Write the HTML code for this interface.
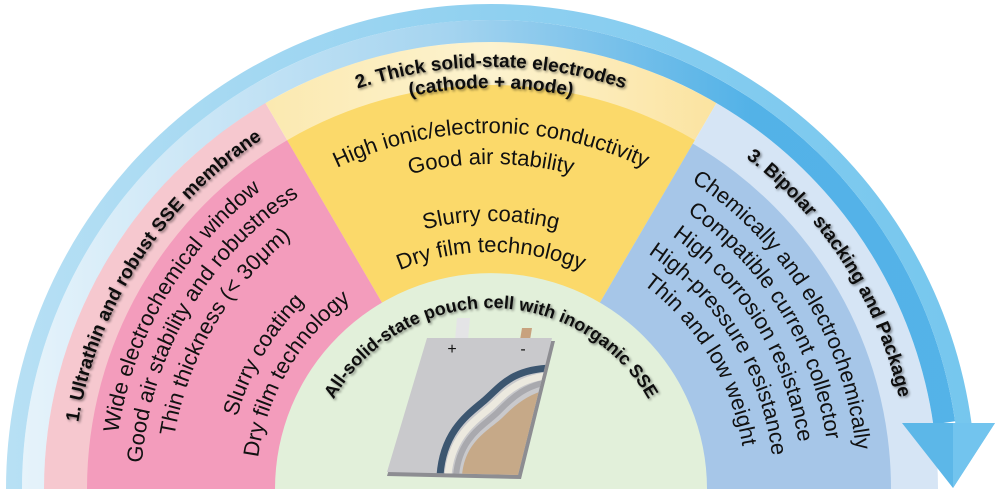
<!DOCTYPE html>
<html><head><meta charset="utf-8"><style>
html,body{margin:0;padding:0;background:#fff;overflow:hidden;width:1000px;height:489px;}
svg{display:block;}
text{font-family:"Liberation Sans",Arial,sans-serif;}
</style></head>
<body>
<svg id="s" width="1000" height="489" viewBox="0 0 1000 489" xmlns="http://www.w3.org/2000/svg">
<defs>
<linearGradient id="gIn" gradientUnits="userSpaceOnUse" x1="0" y1="0" x2="1000" y2="0">
<stop offset="0" stop-color="#4aa9e0" stop-opacity="0.12"/>
<stop offset="0.45" stop-color="#4aa9e0" stop-opacity="0.5"/>
<stop offset="0.75" stop-color="#4aaee6" stop-opacity="0.95"/>
<stop offset="1" stop-color="#55b3e8" stop-opacity="1"/>
</linearGradient>
<linearGradient id="gOut" gradientUnits="userSpaceOnUse" x1="0" y1="0" x2="1000" y2="0">
<stop offset="0" stop-color="#b8e0f4"/>
<stop offset="0.5" stop-color="#8fd0f0"/>
<stop offset="1" stop-color="#74c6ee"/>
</linearGradient>
<linearGradient id="gPaleY" x1="0" y1="0" x2="1" y2="0">
<stop offset="0" stop-color="#fbe9b0"/><stop offset="0.5" stop-color="#fdf3cf"/><stop offset="1" stop-color="#fbe3a0"/>
</linearGradient>
<filter id="sh" x="-10%" y="-10%" width="120%" height="130%">
<feDropShadow dx="1.5" dy="1.5" stdDeviation="1.4" flood-color="#000" flood-opacity="0.45"/>
</filter>
<clipPath id="pouchClip"><path d="M427,338 L552,338 L518,475 L387,472 Z"/></clipPath>
</defs>
<g id="layers"></g>
<g id="texts"></g>
</svg>
<script>
const CX=491, CY=489;
const NS="http://www.w3.org/2000/svg";
const svg=document.getElementById('s');
const layers=document.getElementById('layers');
const texts=document.getElementById('texts');
function pt(r,a){const t=a*Math.PI/180;return [CX+r*Math.cos(t),CY-r*Math.sin(t)];}
function wedge(r,a1,a2){const p1=pt(r,a1),p2=pt(r,a2);return `M${CX},${CY} L${p1[0]},${p1[1]} A${r},${r} 0 0 1 ${p2[0]},${p2[1]} Z`;}
function ring(r1,r2,a1,a2){const a=pt(r2,a1),b=pt(r2,a2),c=pt(r1,a2),d=pt(r1,a1);
 return `M${a[0]},${a[1]} A${r2},${r2} 0 0 1 ${b[0]},${b[1]} L${c[0]},${c[1]} A${r1},${r1} 0 0 0 ${d[0]},${d[1]} Z`;}
function addPath(parent,d,fill,name){const p=document.createElementNS(NS,'path');p.setAttribute('d',d);p.setAttribute('fill',fill);
 
 
 parent.appendChild(p);return p;}

addPath(layers,wedge(447,180,120.3),'#f6c8cf','pale-pink-label-band');
addPath(layers,wedge(447,120.3,59.7),'url(#gPaleY)','pale-yellow-label-band');
addPath(layers,wedge(447,59.7,0),'#d6e5f5','pale-blue-label-band');
addPath(layers,wedge(404,180,120.3),'#f39cbc','pink-sector-membrane');
addPath(layers,wedge(404,120.3,59.7),'#fbd96a','yellow-sector-electrodes');
addPath(layers,wedge(400,59.7,0),'#a6c6e8','blue-sector-bipolar');
addPath(layers,`M${CX-216},${CY} A216,216 0 0 1 ${CX+216},${CY} Z`,'#e2f0da','green-core-pouch-cell');

addPath(layers,ring(447,469,180,8.3),'url(#gIn)','arrow-inner-band');
addPath(layers,ring(469,485,180,7.8),'url(#gOut)','arrow-outer-band');
addPath(layers,'M902,423 L995,423 L953,488 Z','#5cb7e8','arrow-head');
addPath(layers,'M953,423 L995,423 L953,488 Z','#72c4ee','arrow-head-highlight');

const pg=document.createElementNS(NS,'g');


layers.appendChild(pg);
addPath(pg,'M457,318 L470,318 L468,340 L455,340 Z','#e4e4e6','positive-tab');
addPath(pg,'M522,328 L532,328 L530,340 L520,340 Z','#c8a27e','negative-tab');
addPath(pg,'M428,341 L555,341 L521,479 L387,476 Z','#8d8d92','pouch-side');
addPath(pg,'M427,338 L552,338 L518,475 L387,472 Z','#c9c9cc','pouch-top');
const cg=document.createElementNS(NS,'g');cg.setAttribute('clip-path','url(#pouchClip)');


pg.appendChild(cg);
addPath(cg,'M462,476 C465,440 490,430 503,417 S530,392 555,388 L555,476 Z','#c6a988','cathode-layer');
function strokeP(d,col,w,name){const p=document.createElementNS(NS,'path');p.setAttribute('d',d);p.setAttribute('fill','none');p.setAttribute('stroke',col);p.setAttribute('stroke-width',w);
 
 
 cg.appendChild(p);}
strokeP('M456,476 C459,437 485,425 498,412 S525,384 555,381','#a9a9ae',6,'current-collector-layer');
strokeP('M448,476 C451,434 478,419 492,406 S519,377 555,375','#ece9df',7,'electrolyte-layer');
strokeP('M440,476 C443,430 470,413 485,400 S512,368 555,368','#3c5670',7,'anode-layer');
function plain(x,y,t,size,name){const e=document.createElementNS(NS,'text');e.setAttribute('x',x);e.setAttribute('y',y);e.setAttribute('font-size',size);e.setAttribute('text-anchor','middle');e.setAttribute('fill','#111');e.textContent=t;
 
 
 pg.appendChild(e);}
plain(452,354,'+',16,'plus-sign');
plain(523,354,'-',16,'minus-sign');

let pid=0;
function arcText(str,r,center,size,bold,name,span){
 span=span||35;
 const a1=center+span,a2=center-span;const p1=pt(r,a1),p2=pt(r,a2);
 const id='tp'+(pid++);
 const p=document.createElementNS(NS,'path');p.setAttribute('id',id);p.setAttribute('fill','none');
 p.setAttribute('d',`M${p1[0]},${p1[1]} A${r},${r} 0 0 1 ${p2[0]},${p2[1]}`);
 svg.querySelector('defs').appendChild(p);
 const t=document.createElementNS(NS,'text');t.setAttribute('font-size',size);t.setAttribute('fill','#111');
 if(bold){t.setAttribute('font-weight','bold');t.setAttribute('filter','url(#sh)');}
 
 
 const tp=document.createElementNS(NS,'textPath');tp.setAttribute('href','#'+id);tp.setAttribute('startOffset','50%');tp.setAttribute('text-anchor','middle');
 tp.textContent=str;t.appendChild(tp);texts.appendChild(t);
}
const pinkLines=['Wide electrochemical window','Good air stability and robustness','Thin thickness (< 30μm)','Slurry coating','Dry film technology'];
const pinkR=[377,350,321,264,235];
pinkLines.forEach((s,i)=>arcText(s,pinkR[i],149.5,22,false,'membrane-feature-'+(i+1),29));
const yellowLines=['High ionic/electronic conductivity','Good air stability','Slurry coating','Dry film technology'];
const yellowR=[356,325,268,237];
yellowLines.forEach((s,i)=>arcText(s,yellowR[i],90,22,false,'electrode-feature-'+(i+1),40));
const blueLines=['Chemically and electrochemically','Compatible current collector','High corrosion resistance','High-pressure resistance','Thin and low weight'];
const blueR=[367,339,311,283,255];
blueLines.forEach((s,i)=>arcText(s,blueR[i],31.5,22,false,'bipolar-feature-'+(i+1),30));
arcText('1. Ultrathin and robust SSE membrane',418,147,19,true,'title-ssemembrane',32);
arcText('2. Thick solid-state electrodes',422,90,19,true,'title-thick-electrodes',35);
arcText('(cathode + anode)',401,90,19,true,'title-cathode-anode',35);
arcText('3. Bipolar stacking and Package',418,32.5,19,true,'title-bipolar-stacking',31);
arcText('All-solid-state pouch cell with inorganic SSE',181,90,18,true,'title-pouch-cell',75);
</script>
</body></html>
